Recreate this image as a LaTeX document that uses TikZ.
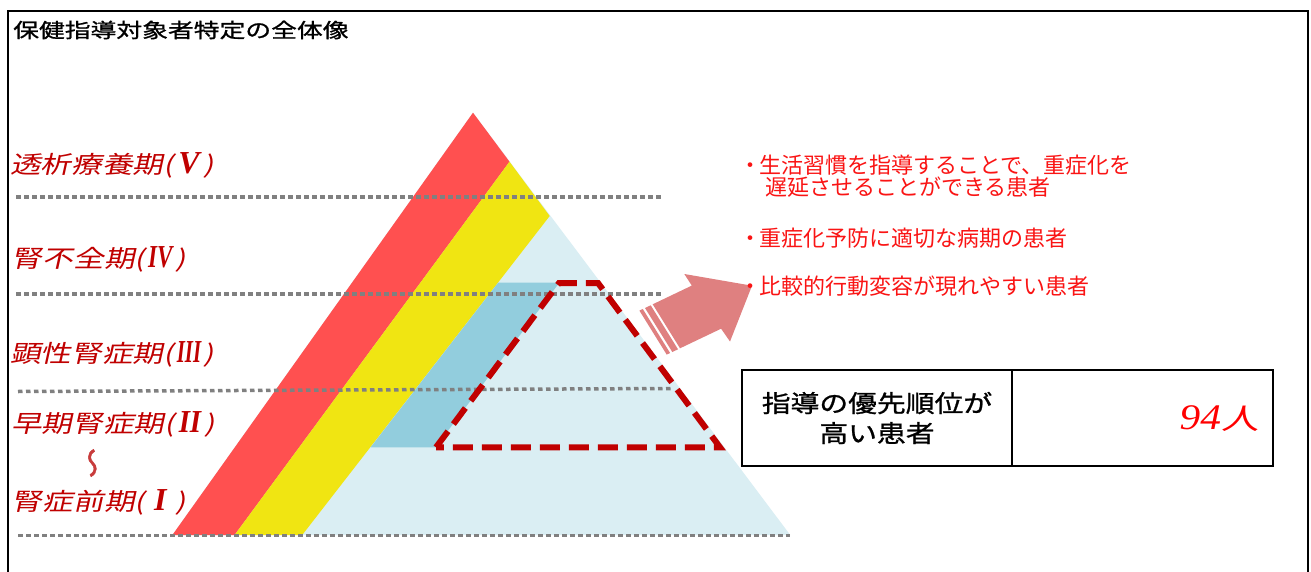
\documentclass[tikz,border=0pt]{standalone}
\usepackage{fontspec}
\usepackage{graphicx}
\newfontfamily\jpg{Noto Sans CJK JP}
\newfontfamily\jpwave[FakeBold=1.5]{Noto Sans CJK JP}
\newfontfamily\jptitle[FakeStretch=1.29,FakeBold=1]{Noto Sans CJK JP}
\newfontfamily\jplab[FakeStretch=1.28,FakeSlant=0.22]{Noto Sans CJK JP}
\newfontfamily\jpbox[FakeStretch=1.2,FakeBold=1]{Noto Sans CJK JP}
\newfontfamily\jpnum[FakeStretch=1.3,FakeSlant=0.2]{Noto Sans CJK JP}
\newfontfamily\romanbi{Liberation Serif}
\newfontfamily\numit[FakeStretch=1.15]{Liberation Serif}
\newcommand\rnum[3]{\makebox[#1pt]{\scalebox{#2}[1]{\fontsize{32}{32}\romanbi\bfseries\itshape #3}}}
\definecolor{bandred}{RGB}{255,80,80}
\definecolor{bandyellow}{RGB}{240,229,18}
\definecolor{lightblue}{RGB}{218,238,243}
\definecolor{midblue}{RGB}{146,205,221}
\definecolor{darkred}{RGB}{192,0,0}
\definecolor{arrowpink}{RGB}{223,128,128}
\definecolor{dotgray}{RGB}{128,128,128}
\definecolor{bulletred}{RGB}{250,20,20}
\definecolor{wavecol}{RGB}{200,60,60}
\tikzset{
  dotline/.style={draw=dotgray, line width=3.5pt, dash pattern=on 4.5pt off 3.5pt},
  trapline/.style={draw=darkred, line width=6pt, dash pattern=on 20pt off 9pt, line join=miter},
  lab/.style={anchor=west, inner sep=0pt, outer sep=0pt, text=darkred, font=\fontsize{24}{26}\jplab},
  bul/.style={anchor=west, inner sep=0pt, outer sep=0pt, text=bulletred, font=\fontsize{22}{22}\jpg},
  cell/.style={draw=black, line width=2pt, minimum height=96pt, inner sep=0pt, outer sep=0pt},
  framestyle/.style={draw=black, line width=2.2pt},
}
\begin{document}
\begin{tikzpicture}[x=1pt,y=-1pt]
\useasboundingbox (0,0) rectangle (1311,572);
\fill[white] (0,0) rectangle (1311,572);

% pyramid
\coordinate (apex) at (473,112.7);
\coordinate (bl) at (172.4,535);
\coordinate (br) at (790.2,535);
\coordinate (ry1) at (509.5,161.7);
\coordinate (ry2) at (234.6,535);
\coordinate (yb1) at (549.7,216);
\coordinate (yb2) at (302.2,535);
\fill[lightblue] (apex)--(br)--(bl)--cycle;
\fill[bandred] (apex)--(ry1)--(ry2)--(bl)--cycle;
\fill[bandyellow] (ry1)--(yb1)--(yb2)--(ry2)--cycle;
\fill[midblue] (498.3,282.5)--(559.5,282.5)--(435.5,447.3)--(370.6,447.3)--cycle;

% dotted stage lines
\coordinate (d1a) at (16,197);   \coordinate (d1b) at (663,197);
\coordinate (d2a) at (16,294);   \coordinate (d2b) at (663,294);
\coordinate (d3a) at (18,391.5); \coordinate (d3b) at (672,388.5);
\coordinate (d4a) at (18,535.3); \coordinate (d4b) at (790,535.3);
\draw[dotline] (d1a)--(d1b);
\draw[dotline] (d2a)--(d2b);
\draw[dotline] (d3a)--(d3b);
\draw[dotline] (d4a)--(d4b);

% dashed trapezoid
\coordinate (tbl) at (436,447.3);
\coordinate (ttl) at (559,283);
\coordinate (ttr) at (598,283);
\coordinate (tbr) at (720,447.3);
\draw[trapline] (tbl)--(ttl)--(ttr)--(tbr)--cycle;

% striped block arrow
\fill[arrowpink] (752,285.7)--(684.3,274)--(691.8,285.6)--(652.7,304.3)--(680,348.3)--(721.1,328.7)--(730,341.5)--cycle;
\fill[arrowpink] (650.7,305.3)--(645.0,308.0)--(672.3,352.0)--(678.0,349.3)--cycle;
\fill[arrowpink] (642.8,309.0)--(639.4,310.6)--(666.7,354.6)--(670.1,353.0)--cycle;

% title
\node[anchor=west, inner sep=0pt, font=\fontsize{20}{22}\jptitle] (title) at (13,30) {保健指導対象者特定の全体像};

% stage labels
\node[lab] (l5) at (10,165) {透析療養期(\rnum{30}{1}{V})};
\node[lab] (l4) at (12,259) {腎不全期(\rnum{30}{0.72}{IV})};
\node[lab] (l3) at (10,354) {顕性腎症期(\rnum{30}{0.65}{III})};
\node[lab] (l2) at (11,424) {早期腎症期(\rnum{30}{0.9}{II})};
\node[inner sep=0pt, rotate=90, text=wavecol, font=\fontsize{30}{30}\jpwave] (wave) at (96,463) {\reflectbox{～}};
\node[lab] (l1) at (12,502) {腎症前期(\rnum{30}{1}{I})};

% bullet texts
\node[bul] (b1) at (739,165) {・\hspace{-2pt}生活習慣を指導することで、重症化を};
\node[bul] (b1b) at (765,187.5) {遅延させることができる患者};
\node[bul] (b2) at (739,238) {・\hspace{-2pt}重症化予防に適切な病期の患者};
\node[bul] (b3) at (739,286.5) {・\hspace{-2pt}比較的行動変容が現れやすい患者};

% table
\node[cell, minimum width=270pt, align=center, font=\fontsize{24}{30}\jpbox] (c1) at (877,418) {指導の優先順位が\\高い患者};
\node[cell, minimum width=261pt, anchor=west] (c2) at (c1.east) {};
\node[anchor=east, inner sep=0pt, text=red] (num) at (1259,419) {{\fontsize{36}{36}\numit\itshape 94}{\fontsize{29}{29}\jpnum 人}};

% frame
\draw[framestyle] (8,580)--(8,11)--(1308,11)--(1308,580);
\end{tikzpicture}
\end{document}
